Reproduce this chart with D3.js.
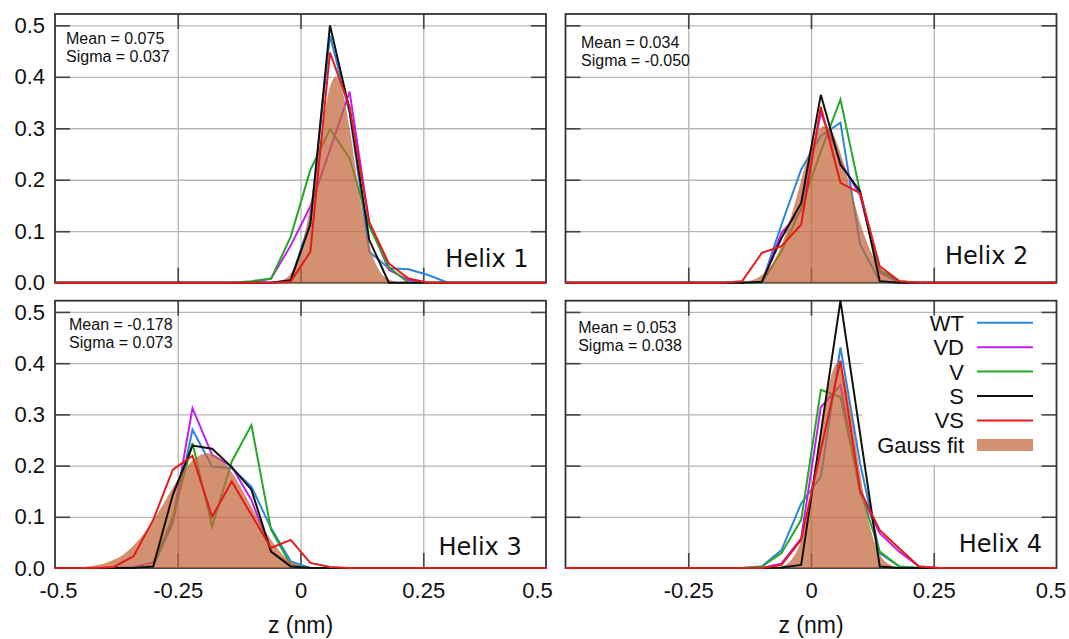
<!DOCTYPE html>
<html>
<head>
<meta charset="utf-8">
<script src="https://cdn.jsdelivr.net/npm/d3@7"></script>
<style>
  body { margin: 0; background: #fff; }
  svg { display: block; }
  text { font-family: "Liberation Sans", Arial, sans-serif; fill: #111; }
</style>
</head>
<body>
<div id="chart"></div>
<script>
// series
const seriesNames = ["WT", "VD", "V", "S", "VS"];
const seriesColors = ["#2a86e0", "#c01ff2", "#25a825", "#111111", "#e61a1a"];
const fitName = "Gauss fit";
const fitColor = "#c4663a";

const helixLabels = ["Helix 1", "Helix 2", "Helix 3", "Helix 4"];
const meanLabels = ["0.075", "0.034", "-0.178", "0.053"];
const sigmaLabels = ["0.037", "-0.050", "0.073", "0.038"];

const xTicks = [-0.5, -0.25, 0, 0.25, 0.5];
const xGrid = [-0.25, 0, 0.25];
const yTicks = [0, 0.1, 0.2, 0.3, 0.4, 0.5];

// Helix 1
const h1_z  = [-0.5, -0.14, -0.10, -0.06, -0.02, 0.02, 0.06, 0.10, 0.14, 0.18, 0.22, 0.26, 0.30, 0.34, 0.5];
const h1_wt = [0, 0, 0, 0, 0.005, 0.12, 0.48, 0.33, 0.06, 0.028, 0.026, 0.015, 0, 0, 0];
const h1_vd = [0, 0, 0, 0.008, 0.072, 0.148, 0.258, 0.371, 0.115, 0.025, 0.005, 0, 0, 0, 0];
const h1_v  = [0, 0, 0.003, 0.008, 0.089, 0.219, 0.298, 0.242, 0.11, 0.03, 0, 0, 0, 0, 0];
const h1_s  = [0, 0, 0, 0, 0.005, 0.113, 0.50, 0.335, 0.083, 0, 0, 0, 0, 0, 0];
const h1_vs = [0, 0, 0, 0, 0.002, 0.06, 0.447, 0.342, 0.118, 0.037, 0.008, 0, 0, 0, 0];
const h1_fitZ = [-0.06, -0.04, -0.02, 0, 0.02, 0.04, 0.06, 0.072, 0.08, 0.10, 0.12, 0.14, 0.16, 0.18, 0.20, 0.22];
const h1_fit  = [0, 0.004, 0.018, 0.06, 0.149, 0.275, 0.38, 0.40, 0.391, 0.30, 0.172, 0.074, 0.024, 0.006, 0.001, 0];

// Helix 2
const h2_z  = [-0.5, -0.18, -0.14, -0.10, -0.06, -0.02, 0.02, 0.06, 0.10, 0.14, 0.18, 0.22, 0.5];
const h2_wt = [0, 0, 0, 0, 0.113, 0.22, 0.285, 0.311, 0.074, 0.003, 0, 0, 0];
const h2_vd = [0, 0, 0, 0, 0.097, 0.14, 0.33, 0.235, 0.17, 0.02, 0, 0, 0];
const h2_v  = [0, 0, 0, 0, 0.061, 0.145, 0.255, 0.356, 0.176, 0.025, 0.003, 0, 0];
const h2_s  = [0, 0, 0, 0.002, 0.087, 0.155, 0.365, 0.229, 0.178, 0.003, 0, 0, 0];
const h2_vs = [0, 0, 0.003, 0.058, 0.071, 0.113, 0.342, 0.194, 0.174, 0.032, 0.003, 0, 0];
const h2_fitZ = [-0.16, -0.14, -0.12, -0.10, -0.08, -0.06, -0.04, -0.02, 0, 0.02, 0.028, 0.04, 0.06, 0.08, 0.10, 0.12, 0.14, 0.16, 0.18, 0.20, 0.22];
const h2_fit  = [0, 0.002, 0.005, 0.015, 0.035, 0.073, 0.13, 0.199, 0.264, 0.301, 0.305, 0.297, 0.252, 0.185, 0.117, 0.064, 0.03, 0.012, 0.004, 0.001, 0];

// Helix 3
const h3_z  = [-0.5, -0.42, -0.38, -0.34, -0.30, -0.26, -0.22, -0.18, -0.14, -0.10, -0.06, -0.02, 0.02, 0.06, 0.10, 0.5];
const h3_wt = [0, 0, 0, 0, 0.003, 0.088, 0.27, 0.198, 0.195, 0.159, 0.078, 0.013, 0, 0, 0, 0];
const h3_vd = [0, 0, 0, 0.002, 0.011, 0.094, 0.312, 0.221, 0.198, 0.133, 0.032, 0.006, 0, 0, 0, 0];
const h3_v  = [0, 0, 0, 0, 0.003, 0.10, 0.244, 0.081, 0.208, 0.279, 0.075, 0.006, 0, 0, 0, 0];
const h3_s  = [0, 0, 0, 0, 0.003, 0.143, 0.239, 0.233, 0.197, 0.153, 0.032, 0.003, 0, 0, 0, 0];
const h3_vs = [0, 0, 0.002, 0.023, 0.094, 0.192, 0.219, 0.10, 0.169, 0.104, 0.039, 0.055, 0.01, 0.002, 0, 0];
const h3_fitZ = [-0.48, -0.46, -0.44, -0.42, -0.40, -0.38, -0.36, -0.34, -0.32, -0.30, -0.28, -0.26, -0.24, -0.22, -0.20, -0.19, -0.18, -0.16, -0.14, -0.12, -0.10, -0.08, -0.06, -0.04, -0.02, 0, 0.02];
const h3_fit  = [0, 0.001, 0.002, 0.005, 0.009, 0.016, 0.027, 0.044, 0.066, 0.093, 0.124, 0.157, 0.187, 0.21, 0.222, 0.224, 0.222, 0.21, 0.187, 0.155, 0.12, 0.085, 0.055, 0.03, 0.012, 0.003, 0];

// Helix 4
const h4_z  = [-0.5, -0.18, -0.14, -0.10, -0.06, -0.02, 0.02, 0.06, 0.10, 0.14, 0.18, 0.22, 0.26, 0.5];
const h4_wt = [0, 0, 0, 0.003, 0.035, 0.126, 0.178, 0.431, 0.204, 0.029, 0.003, 0, 0, 0];
const h4_vd = [0, 0, 0, 0, 0.009, 0.058, 0.314, 0.357, 0.146, 0.068, 0.032, 0.003, 0, 0];
const h4_v  = [0, 0, 0, 0.003, 0.029, 0.094, 0.348, 0.334, 0.152, 0.032, 0.003, 0, 0, 0];
const h4_s  = [0, 0, 0, 0, 0.001, 0.006, 0.264, 0.522, 0.262, 0.003, 0, 0, 0, 0];
const h4_vs = [0, 0, 0, 0, 0.006, 0.055, 0.23, 0.405, 0.152, 0.074, 0.038, 0.003, 0, 0];
const h4_fitZ = [-0.08, -0.06, -0.04, -0.02, 0, 0.02, 0.04, 0.054, 0.06, 0.08, 0.10, 0.12, 0.14, 0.16, 0.18, 0.20];
const h4_fit  = [0, 0.003, 0.016, 0.054, 0.138, 0.262, 0.372, 0.40, 0.395, 0.312, 0.185, 0.081, 0.027, 0.007, 0.001, 0];

const panels = [
  {z: h1_z, lines: [h1_wt, h1_vd, h1_v, h1_s, h1_vs], fitZ: h1_fitZ, fit: h1_fit},
  {z: h2_z, lines: [h2_wt, h2_vd, h2_v, h2_s, h2_vs], fitZ: h2_fitZ, fit: h2_fit},
  {z: h3_z, lines: [h3_wt, h3_vd, h3_v, h3_s, h3_vs], fitZ: h3_fitZ, fit: h3_fit},
  {z: h4_z, lines: [h4_wt, h4_vd, h4_v, h4_s, h4_vs], fitZ: h4_fitZ, fit: h4_fit}
];

// layout
const width = 1069, height = 639;
const colX = [[55, 546], [565.5, 1056.5]];
const rowY = [[14, 282.7], [300.7, 568]];
const yTop = 0.522;
const statPos = [[11, 30.3], [15.5, 33.7], [14, 29.3], [12.7, 32]];
const helixPos = [[528.6, 266.7], [1028.3, 264], [521.7, 555], [1042, 551.7]];

const svg = d3.select("#chart").append("svg")
  .attr("width", width)
  .attr("height", height);

function styleAxis(g, color, w) {
  g.select(".domain").remove();
  g.selectAll(".tick line").attr("stroke", color).attr("stroke-width", w);
}

function drawPanel(p, i) {
  let col = i % 2, row = Math.floor(i / 2);
  let x = d3.scaleLinear().domain([-0.5, 0.5]).range(colX[col]);
  let y = d3.scaleLinear().domain([0, yTop]).range([rowY[row][1], rowY[row][0]]);
  let w = x(0.5) - x(-0.5), h = y(0) - y(yTop);

  let g = svg.append("g");

  // grid
  g.append("g")
    .attr("transform", `translate(0,${y(0)})`)
    .call(d3.axisBottom(x).tickValues(xGrid).tickSize(-h).tickFormat(""))
    .call(a => styleAxis(a, "#b5b5b5", 1.3));
  g.append("g")
    .attr("transform", `translate(${x(-0.5)},0)`)
    .call(d3.axisLeft(y).tickValues(yTicks.slice(1)).tickSize(-w).tickFormat(""))
    .call(a => styleAxis(a, "#b5b5b5", 1.3));

  // legend box sits over the grid in the last panel
  if (i == 3) {
    g.append("rect")
      .attr("x", 862).attr("y", y(0.5) + 1)
      .attr("width", x(0.5) - 862).attr("height", y(0.2) - y(0.5) - 2)
      .attr("fill", "#fff");
  }

  // inner ticks on all four sides
  let tl = -15;
  g.append("g").attr("transform", `translate(0,${y(0)})`)
    .call(d3.axisBottom(x).tickValues(xGrid).tickSize(tl).tickFormat(""))
    .call(a => styleAxis(a, "#444", 1.6));
  g.append("g").attr("transform", `translate(0,${y(yTop)})`)
    .call(d3.axisTop(x).tickValues(xGrid).tickSize(tl).tickFormat(""))
    .call(a => styleAxis(a, "#444", 1.6));
  g.append("g").attr("transform", `translate(${x(-0.5)},0)`)
    .call(d3.axisLeft(y).tickValues(yTicks.slice(1)).tickSize(tl).tickFormat(""))
    .call(a => styleAxis(a, "#444", 1.6));
  g.append("g").attr("transform", `translate(${x(0.5)},0)`)
    .call(d3.axisRight(y).tickValues(yTicks.slice(1)).tickSize(tl).tickFormat(""))
    .call(a => styleAxis(a, "#444", 1.6));

  g.append("rect")
    .attr("x", x(-0.5)).attr("y", y(yTop))
    .attr("width", w).attr("height", h)
    .attr("fill", "none")
    .attr("stroke", "#333")
    .attr("stroke-width", 1.8);

  // tick labels
  if (col == 0) {
    g.append("g")
      .attr("transform", `translate(${x(-0.5)},0)`)
      .call(d3.axisLeft(y).tickValues(yTicks).tickSize(0).tickPadding(10).tickFormat(d3.format(".1f")))
      .call(a => a.select(".domain").remove())
      .selectAll("text")
        .style("font-size", "22px")
        .style("font-family", "'Liberation Sans', Arial, sans-serif")
        .attr("fill", "#111");
  }
  if (row == 1) {
    // the right panel has no -0.5 label; the 0.5 labels sit a little inside the frame
    let ticks = col == 0 ? xTicks : xTicks.slice(1);
    g.append("g")
      .attr("transform", `translate(0,${y(0)})`)
      .call(d3.axisBottom(x).tickValues(ticks).tickSize(0).tickPadding(14).tickFormat(d => d == 0 ? "0" : String(d)))
      .call(a => a.select(".domain").remove())
      .selectAll("text")
        .style("font-size", "22px")
        .style("font-family", "'Liberation Sans', Arial, sans-serif")
        .attr("fill", "#111")
        .attr("dx", d => d == 0.5 ? (col == 0 ? -9 : -6) : (d == -0.5 ? 3 : 0));

    g.append("text")
      .attr("x", x(0))
      .attr("y", 633)
      .attr("text-anchor", "middle")
      .style("font-size", "23px")
      .text("z (nm)");
  }

  // data
  let line = d3.line().x(d => x(d[0])).y(d => y(d[1]));
  let area = d3.area()
    .x(d => x(d[0]))
    .y0(y(0))
    .y1(d => y(d[1]))
    .curve(d3.curveMonotoneX);

  let drawLine = k => g.append("path")
    .datum(d3.zip(p.z, p.lines[k]))
    .attr("d", line)
    .attr("fill", "none")
    .attr("stroke", seriesColors[k])
    .attr("stroke-width", 2);

  [0, 1, 2].forEach(drawLine);

  g.append("path")
    .datum(d3.zip(p.fitZ, p.fit))
    .attr("d", area)
    .attr("fill", fitColor)
    .attr("fill-opacity", 0.72);

  [3, 4].forEach(drawLine);

  // annotations
  g.append("text")
    .attr("x", x(-0.5) + statPos[i][0])
    .attr("y", y(yTop) + statPos[i][1])
    .style("font-size", "16px")
    .text("Mean = " + meanLabels[i]);
  g.append("text")
    .attr("x", x(-0.5) + statPos[i][0])
    .attr("y", y(yTop) + statPos[i][1] + 18)
    .style("font-size", "16px")
    .text("Sigma = " + sigmaLabels[i]);

  g.append("text")
    .attr("x", helixPos[i][0])
    .attr("y", helixPos[i][1])
    .attr("text-anchor", "end")
    .style("font-family", "'DejaVu Sans', Verdana, sans-serif")
    .style("font-size", "24px")
    .text(helixLabels[i]);
}

panels.forEach(drawPanel);

// legend
let legend = svg.append("g");
let rowH = 24.46;
seriesNames.concat([fitName]).forEach((name, k) => {
  let cy = 322.7 + k * rowH;
  legend.append("text")
    .attr("x", 964)
    .attr("y", cy)
    .attr("dy", "0.36em")
    .attr("text-anchor", "end")
    .style("font-size", "22px")
    .text(name);
  if (k < seriesNames.length) {
    legend.append("line")
      .attr("x1", 977).attr("x2", 1033)
      .attr("y1", cy).attr("y2", cy)
      .attr("stroke", seriesColors[k])
      .attr("stroke-width", 2);
  } else {
    legend.append("rect")
      .attr("x", 977).attr("y", cy - 6)
      .attr("width", 56).attr("height", 12)
      .attr("fill", fitColor)
      .attr("fill-opacity", 0.72);
  }
});
</script>
</body>
</html>
